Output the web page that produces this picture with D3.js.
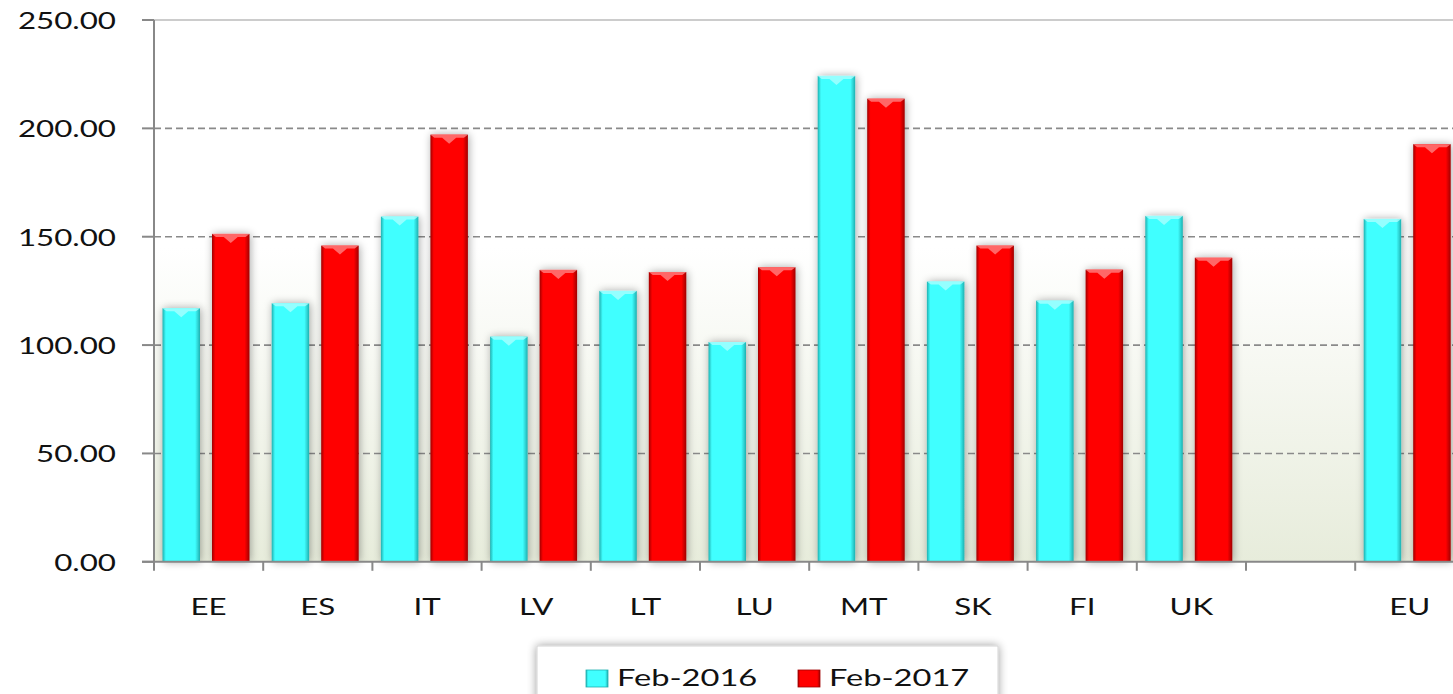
<!DOCTYPE html>
<html><head><meta charset="utf-8">
<script src="https://cdn.jsdelivr.net/npm/d3@7"></script>
<style>
html,body{margin:0;padding:0;background:#fff;}
svg{display:block;}
text{font-family:Lato,"Open Sans",sans-serif;fill:#111;}
</style></head>
<body>
<svg id="chart" width="1453" height="694"></svg>
<script>
// ---- data ----
const categories = ["EE","ES","IT","LV","LT","LU","MT","SK","FI","UK"," ","EU"];
const seriesNames = ["Feb-2016","Feb-2017"];
const feb2016 = [117.0,119.3,159.3,103.9,125.0,101.4,224.2,129.3,120.5,159.6,null,158.2];
const feb2017 = [151.3,145.9,197.1,134.7,133.7,135.9,213.7,145.9,134.8,140.3,null,192.7];
const yTicks = [0,50,100,150,200,250];

// ---- layout ----
const plotL = 154, plotT = 20, plotB = 561.8, bandStep = 109.2;
const plotR = plotL + bandStep*categories.length;
const SX = 1.36; // horizontal text stretch seen in the reference
const colors = {"Feb-2016":{main:"#40ffff",dark:"#1fb0b0",light:"#b0ffff"},
                "Feb-2017":{main:"#ff0000",dark:"#a00000",light:"#ff8a8a"}};

const svg = d3.select("#chart");
const defs = svg.append("defs");

// background gradient of plot area
const bg = defs.append("linearGradient").attr("id","bgGrad").attr("x1",0).attr("y1",0).attr("x2",0).attr("y2",1);
bg.append("stop").attr("offset","0").attr("stop-color","#ffffff");
bg.append("stop").attr("offset","0.42").attr("stop-color","#ffffff");
bg.append("stop").attr("offset","1").attr("stop-color","#e7ecdb");

// bar gradients
seriesNames.forEach((s,i)=>{
  const g = defs.append("linearGradient").attr("id","barGrad"+i).attr("x1",0).attr("y1",0).attr("x2",1).attr("y2",0);
  const c = colors[s];
  g.append("stop").attr("offset","0").attr("stop-color",c.dark);
  g.append("stop").attr("offset","0.09").attr("stop-color",c.main);
  g.append("stop").attr("offset","0.87").attr("stop-color",c.main);
  g.append("stop").attr("offset","1").attr("stop-color",c.dark);
});

// shadow filter
const f = defs.append("filter").attr("id","shadow").attr("x","-40%").attr("y","-10%").attr("width","180%").attr("height","120%");
f.append("feGaussianBlur").attr("in","SourceAlpha").attr("stdDeviation",4).attr("result","blur");
f.append("feOffset").attr("in","blur").attr("dx",1).attr("dy",0).attr("result","off");
f.append("feComponentTransfer").attr("in","off").attr("result","sh")
  .append("feFuncA").attr("type","linear").attr("slope",0.35);
const fm = f.append("feMerge");
fm.append("feMergeNode").attr("in","sh");
fm.append("feMergeNode").attr("in","SourceGraphic");

const f2 = defs.append("filter").attr("id","boxShadow").attr("x","-10%").attr("y","-30%").attr("width","120%").attr("height","160%");
f2.append("feGaussianBlur").attr("in","SourceAlpha").attr("stdDeviation",5).attr("result","blur");
f2.append("feComponentTransfer").attr("in","blur").attr("result","sh")
  .append("feFuncA").attr("type","linear").attr("slope",0.4);
const fm2 = f2.append("feMerge");
fm2.append("feMergeNode").attr("in","sh");
fm2.append("feMergeNode").attr("in","SourceGraphic");

// ---- scales ----
const x0 = d3.scaleBand().domain(categories).range([plotL, plotR]).padding(0);
const x1 = d3.scaleBand().domain(seriesNames).range([8.5, 95.5]).paddingInner(0.2424).paddingOuter(0);
const y = d3.scaleLinear().domain([0,250]).range([plotB, plotT]);

// plot background
svg.append("rect").attr("x",plotL).attr("y",y(250)).attr("width",plotR-plotL).attr("height",y(0)-y(250))
  .attr("fill","url(#bgGrad)");

// gridlines
svg.append("g").selectAll("line").data(yTicks.filter(t=>t>0)).join("line")
  .attr("x1",plotL).attr("x2",plotR).attr("y1",d=>y(d)).attr("y2",d=>y(d))
  .attr("stroke",d=>d===250?"#cccccc":"#8a8a8a")
  .attr("stroke-width",d=>d===250?2:1.6)
  .attr("stroke-dasharray",d=>d===250?null:"7,4");

// bars
const rows = categories.map((c,i)=>({cat:c, vals:[feb2016[i],feb2017[i]]}));
const groups = svg.append("g").selectAll("g").data(rows).join("g")
  .attr("transform",d=>`translate(${x0(d.cat)},0)`);
groups.selectAll("g.bar").data(d=>d.vals.map((v,i)=>({s:seriesNames[i],i,v})).filter(e=>e.v!=null))
  .join("g").attr("class","bar").each(function(d){
    const g = d3.select(this);
    const bx = x1(d.s), bw = x1.bandwidth(), top = y(d.v), bot = y(0);
    const c = colors[d.s];
    g.append("rect").attr("x",bx).attr("y",top).attr("width",bw).attr("height",bot-top)
      .attr("fill",`url(#barGrad${d.i})`).attr("filter","url(#shadow)");
    // top bevel
    g.append("path")
      .attr("d",`M${bx},${top} L${bx+bw},${top} L${bx+bw-4},${top+3} L${bx+bw/2+7},${top+3} L${bx+bw/2},${top+9} L${bx+bw/2-7},${top+3} L${bx+4},${top+3} Z`)
      .attr("fill",c.light).attr("opacity",0.75);
  });

// y axis
svg.append("line").attr("x1",plotL).attr("x2",plotL).attr("y1",y(250)).attr("y2",y(0))
  .attr("stroke","#888").attr("stroke-width",2);
svg.append("g").selectAll("line").data(yTicks).join("line")
  .attr("x1",plotL-12).attr("x2",plotL).attr("y1",d=>y(d)).attr("y2",d=>y(d))
  .attr("stroke","#888").attr("stroke-width",2);
svg.append("g").selectAll("text").data(yTicks).join("text")
  .attr("transform",d=>`translate(116,${y(d)+9}) scale(${SX},1)`)
  .attr("text-anchor","end").attr("font-size",23).text(d=>d3.format(".2f")(d));

// x axis
svg.append("line").attr("x1",plotL-12).attr("x2",plotR).attr("y1",y(0)).attr("y2",y(0))
  .attr("stroke","#888").attr("stroke-width",2);
const bounds = categories.map(c=>x0(c)).concat([plotR]);
svg.append("g").selectAll("line").data(bounds).join("line")
  .attr("x1",d=>d).attr("x2",d=>d).attr("y1",y(0)).attr("y2",y(0)+9)
  .attr("stroke","#888").attr("stroke-width",2);
svg.append("g").selectAll("text").data(categories).join("text")
  .attr("transform",d=>`translate(${x0(d)+x0.bandwidth()/2},615) scale(${SX},1)`)
  .attr("text-anchor","middle").attr("font-size",23).text(d=>d.trim());

// legend
const lg = svg.append("g");
lg.append("rect").attr("x",537).attr("y",646).attr("width",461).attr("height",70)
  .attr("fill","#fff").attr("stroke","#d4d4d4").attr("filter","url(#boxShadow)");
const legX = [586, 798];
seriesNames.forEach((s,i)=>{
  lg.append("rect").attr("x",legX[i]).attr("y",670).attr("width",22).attr("height",17)
    .attr("fill",`url(#barGrad${i})`).attr("stroke",colors[s].dark).attr("stroke-width",0.8);
  lg.append("text").attr("transform",`translate(${legX[i]+31},686) scale(${SX},1)`)
    .attr("font-size",24).text(s);
});
</script>
</body></html>
